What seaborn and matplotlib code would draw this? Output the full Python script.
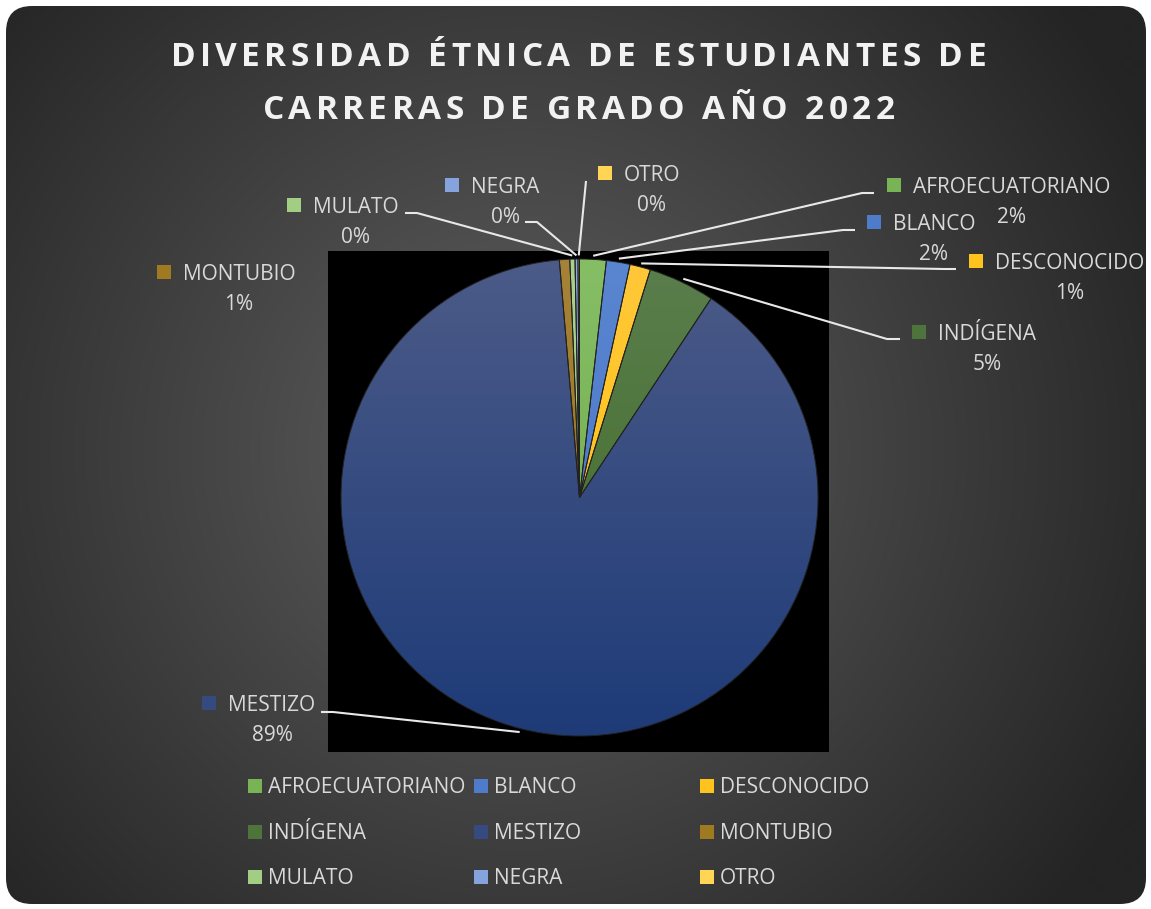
import numpy as np
import matplotlib
matplotlib.use("Agg")
import matplotlib.pyplot as plt
import seaborn as sns
import matplotlib.colors as mcolors
from matplotlib.patches import FancyBboxPatch, Rectangle
from matplotlib.transforms import IdentityTransform
from matplotlib import font_manager, ft2font

# ---------------- data ----------------
categories = ["AFROECUATORIANO", "BLANCO", "DESCONOCIDO", "INDÍGENA", "MESTIZO",
              "MONTUBIO", "MULATO", "NEGRA", "OTRO"]
shares = [1.8, 1.6, 1.4, 4.5, 89.35, 0.7, 0.35, 0.2, 0.1]
title_lines = ["DIVERSIDAD ÉTNICA DE ESTUDIANTES DE", "CARRERAS DE GRADO AÑO 2022"]

# ---------------- style ----------------
top_colors = ["#86BE66", "#5A85D0", "#FFC83A", "#5A7E4C", "#4C5B88",
              "#A6823A", "#A9D18E", "#8FAADC", "#FFD966"]
bot_colors = ["#6AA843", "#4472C4", "#FFBF00", "#3F6A27", "#1E3B78",
              "#9A7306", "#9ACB78", "#7A9BDB", "#FFD23F"]

sns.set_theme(style="white")
plt.rcParams["font.family"] = ["Open Sans", "DejaVu Sans"]

W, H = 1151, 909
fig = plt.figure(figsize=(W / 100, H / 100), dpi=100)
fig.patch.set_facecolor("white")

def fx(px):
    return px / W

def fy(py):
    return 1 - py / H

# ---------------- background (rounded, radial gradient) ----------------
bg = fig.add_axes([0, 0, 1, 1])
bg.set_xlim(0, W)
bg.set_ylim(H, 0)
bg.axis("off")
yy, xx = np.mgrid[0:H:2, 0:W:2]
d = np.hypot(xx - 520, yy - 450)
v = np.clip(96 - 0.085 * d, 36, 96) / 255.0
img = np.dstack([v, v, v])
box = FancyBboxPatch((6, 6), 1140, 898, boxstyle="round,pad=0,rounding_size=26",
                     facecolor="none", edgecolor="none", transform=bg.transData)
bg.add_patch(box)
im = bg.imshow(img, extent=[0, W, H, 0], interpolation="bilinear", aspect="auto")
im.set_clip_path(box)

# ---------------- pie ----------------
cx_px, cy_px, r_px = 579.5, 497.5, 238.5
ax_l, ax_t, ax_r, ax_b = 328, 251, 829, 752
ax = fig.add_axes([fx(ax_l), fy(ax_b), (ax_r - ax_l) / W, (ax_b - ax_t) / H])

def dx(px):
    return (px - cx_px) / r_px

def dy(py):
    return (cy_px - py) / r_px

wedges, _ = ax.pie(shares, startangle=90, counterclock=False,
                   colors=bot_colors,
                   wedgeprops=dict(edgecolor="#222222", linewidth=0.7))
ax.set_aspect("equal")
ax.set_frame_on(True)
for s in ax.spines.values():
    s.set_visible(False)
ax.set_facecolor("black")
ax.set_xticks([])
ax.set_yticks([])

# gradient fill per wedge
grad = np.linspace(0, 1, 256)[:, None]
for w, ct, cb in zip(wedges, top_colors, bot_colors):
    t = np.array(mcolors.to_rgb(ct))
    b = np.array(mcolors.to_rgb(cb))
    g = (t[None, None, :] * (1 - grad[..., None]) + b[None, None, :] * grad[..., None])
    gi = ax.imshow(g, extent=[-1, 1, -1, 1], aspect="auto", zorder=0.5,
                   interpolation="bilinear")
    gi.set_clip_path(w)
    w.set_facecolor("none")
    w.set_zorder(1)
ax.set_xlim(dx(ax_l), dx(ax_r))
ax.set_ylim(dy(ax_b), dy(ax_t))

# ---------------- data labels ----------------
total = sum(shares)
pct_text = [f"{int(s / total * 100 + 0.5)}%" for s in shares]

# layout: name-text centre x, baseline y (pixels)
label_pos = [(1012, 193), (934, 230), (1070, 269), (987, 340), (272, 711),
             (239, 280), (356, 213), (505, 193), (652, 181)]
# leader line: (start, elbow) pixels, None = no line
leader = [((874, 193), (862, 193)), ((855, 230), (843, 230)),
          ((956, 269), (944, 269)), ((900, 339), (887, 339)),
          ((321, 712), (333, 712)), None,
          ((405, 213), (417, 213)), ((525, 222), (537, 222)),
          ((586, 181), (586, 181))]

lab_col = "#D9D9D9"
fs = 15
name_texts = []
for i, cat in enumerate(categories):
    px, py = label_pos[i]
    t = fig.text(fx(px), fy(py), cat, ha="center", va="baseline",
                 color=lab_col, fontsize=fs)
    name_texts.append(t)
    fig.text(fx(px), fy(py + 30), pct_text[i], ha="center", va="baseline",
             color=lab_col, fontsize=fs)
    if leader[i] is not None:
        w = wedges[i]
        mid = np.deg2rad((w.theta1 + w.theta2) / 2)
        ex, ey = 1.015 * np.cos(mid), 1.015 * np.sin(mid)
        (sx, sy), (kx, ky) = leader[i]
        ax.plot([dx(sx), dx(kx), ex], [dy(sy), dy(ky), ey], color="#E8E8E8",
                lw=1.5, clip_on=False, zorder=3, solid_capstyle="butt")

# ---------------- title (letter-spaced) ----------------
title_fs = 24
title_prop = font_manager.FontProperties(family="Open Sans", weight="bold")
title_font = ft2font.FT2Font(font_manager.findfont(title_prop))
title_font.set_size(title_fs, 100)
try:
    _flag = ft2font.LoadFlags.NO_HINTING
except AttributeError:
    _flag = ft2font.LOAD_NO_HINTING

def advance(ch):
    g = title_font.load_char(ord(ch), flags=_flag)
    return g.linearHoriAdvance / 65536.0

spacing = 4.4
for line, base in zip(title_lines, [66, 119]):
    advs = [advance(c) for c in line]
    total_w = sum(advs) + spacing * (len(line) - 1)
    x = 578.5 - total_w / 2
    for c, a in zip(line, advs):
        if c != " ":
            fig.text(fx(x), fy(base), c, ha="left", va="baseline",
                     color="#F2F2F2", fontsize=title_fs, fontweight="bold")
        x += a + spacing

# ---------------- legend (row-wise, 3 equal columns) ----------------
leg_cols = [248, 474, 700]
leg_rows = [793, 839, 884]
for i, cat in enumerate(categories):
    r, c = divmod(i, 3)
    mx, base = leg_cols[c], leg_rows[r]
    mc = (np.array(mcolors.to_rgb(top_colors[i])) + np.array(mcolors.to_rgb(bot_colors[i]))) / 2
    fig.add_artist(Rectangle((mx, H - base), 14, 14, transform=IdentityTransform(),
                             facecolor=mc, edgecolor="none"))
    fig.text(fx(mx + 20), fy(base), cat, ha="left", va="baseline",
             color=lab_col, fontsize=fs)

# ---------------- label markers ----------------
fig.canvas.draw()
renderer = fig.canvas.get_renderer()
for i, t in enumerate(name_texts):
    bb = t.get_window_extent(renderer)
    base = label_pos[i][1]
    mc = (np.array(mcolors.to_rgb(top_colors[i])) + np.array(mcolors.to_rgb(bot_colors[i]))) / 2
    fig.add_artist(Rectangle((bb.x0 - 26, H - base + 1), 14, 14,
                             transform=IdentityTransform(),
                             facecolor=mc, edgecolor="none"))

fig.savefig("out.png", dpi=100, facecolor="white")
